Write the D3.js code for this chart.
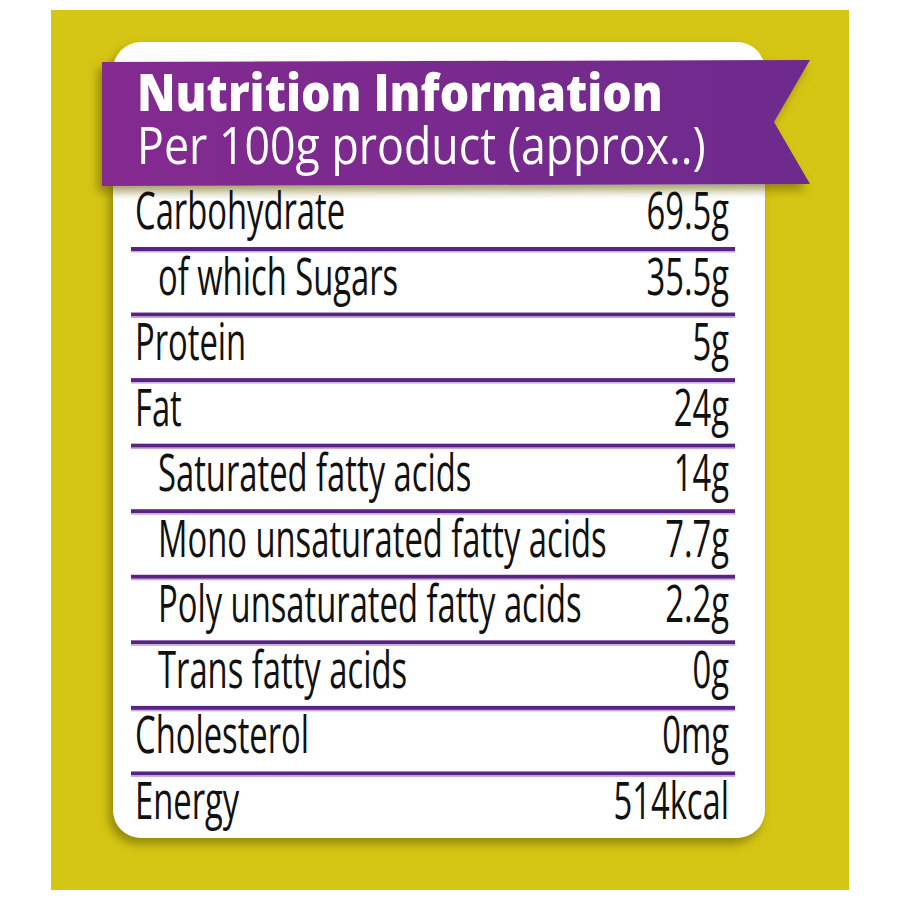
<!DOCTYPE html>
<html><head><meta charset="utf-8">
<script src="https://cdn.jsdelivr.net/npm/d3@7"></script>
<style>body{margin:0;background:#fff}</style>
</head><body>
<div id="chart"></div>
<script>
const title = "Nutrition Information";
const subtitle = "Per 100g product (approx..)";
const labels = ["Carbohydrate", "of which Sugars", "Protein", "Fat", "Saturated fatty acids",
  "Mono unsaturated fatty acids", "Poly unsaturated fatty acids", "Trans fatty acids", "Cholesterol", "Energy"];
const values = ["69.5g", "35.5g", "5g", "24g", "14g", "7.7g", "2.2g", "0g", "0mg", "514kcal"];
const indented = [false, true, false, false, true, true, true, true, false, false];

const svg = d3.select("#chart").append("svg").attr("width", 900).attr("height", 900);
const defs = svg.append("defs");
const grad = defs.append("linearGradient").attr("id", "ban").attr("x1", 0).attr("x2", 1);
grad.append("stop").attr("offset", 0).attr("stop-color", "#842c90");
grad.append("stop").attr("offset", 1).attr("stop-color", "#6d2a8c");
const sh = defs.append("filter").attr("id", "sh").attr("x", -0.1).attr("y", -0.1).attr("width", 1.2).attr("height", 1.2);
sh.append("feDropShadow").attr("dx", -4).attr("dy", 6).attr("stdDeviation", 5).attr("flood-color", "#6b6000").attr("flood-opacity", 0.6);

svg.append("rect").attr("x", 51).attr("y", 10).attr("width", 798).attr("height", 880).attr("fill", "#d5c514");
svg.append("rect").attr("x", 113).attr("y", 42).attr("width", 652).attr("height", 796).attr("rx", 28)
  .attr("fill", "#fff").attr("filter", "url(#sh)");

svg.append("path").attr("d", "M102,62 L810,60 L774,122 L810,184 L102,186 Z")
  .attr("fill", "url(#ban)").attr("filter", "url(#sh)");

function txt(g, s, x, y, size, weight, sx, anchor) {
  return g.append("text").attr("transform", `translate(${x},${y}) scale(${sx},1)`)
    .attr("font-family", "'Open Sans', sans-serif").attr("font-size", size)
    .attr("font-weight", weight).attr("text-anchor", anchor || "start").text(s);
}
txt(svg, title, 137, 111, 52, 800, 0.89).attr("fill", "#fff");
txt(svg, subtitle, 137, 164, 52, 500, 0.86).attr("fill", "#fff");

const y = d3.scaleLinear().domain([0, labels.length - 1]).range([229, 819]);
const rows = svg.append("g");
labels.forEach((l, i) => {
  txt(rows, l, indented[i] ? 158 : 135, y(i), 52, 500, 0.63).attr("fill", "#111");
  txt(rows, values[i], 729, y(i), 52, 500, 0.63, "end").attr("fill", "#111");
  if (i < labels.length - 1) {
    const ly = y(i) + 18;
    rows.append("rect").attr("x", 131).attr("y", ly).attr("width", 604).attr("height", 4).attr("fill", "#5a2383");
    rows.append("rect").attr("x", 131).attr("y", ly + 4).attr("width", 604).attr("height", 1.5).attr("fill", "#c9a8d8");
  }
});
</script>
</body></html>
